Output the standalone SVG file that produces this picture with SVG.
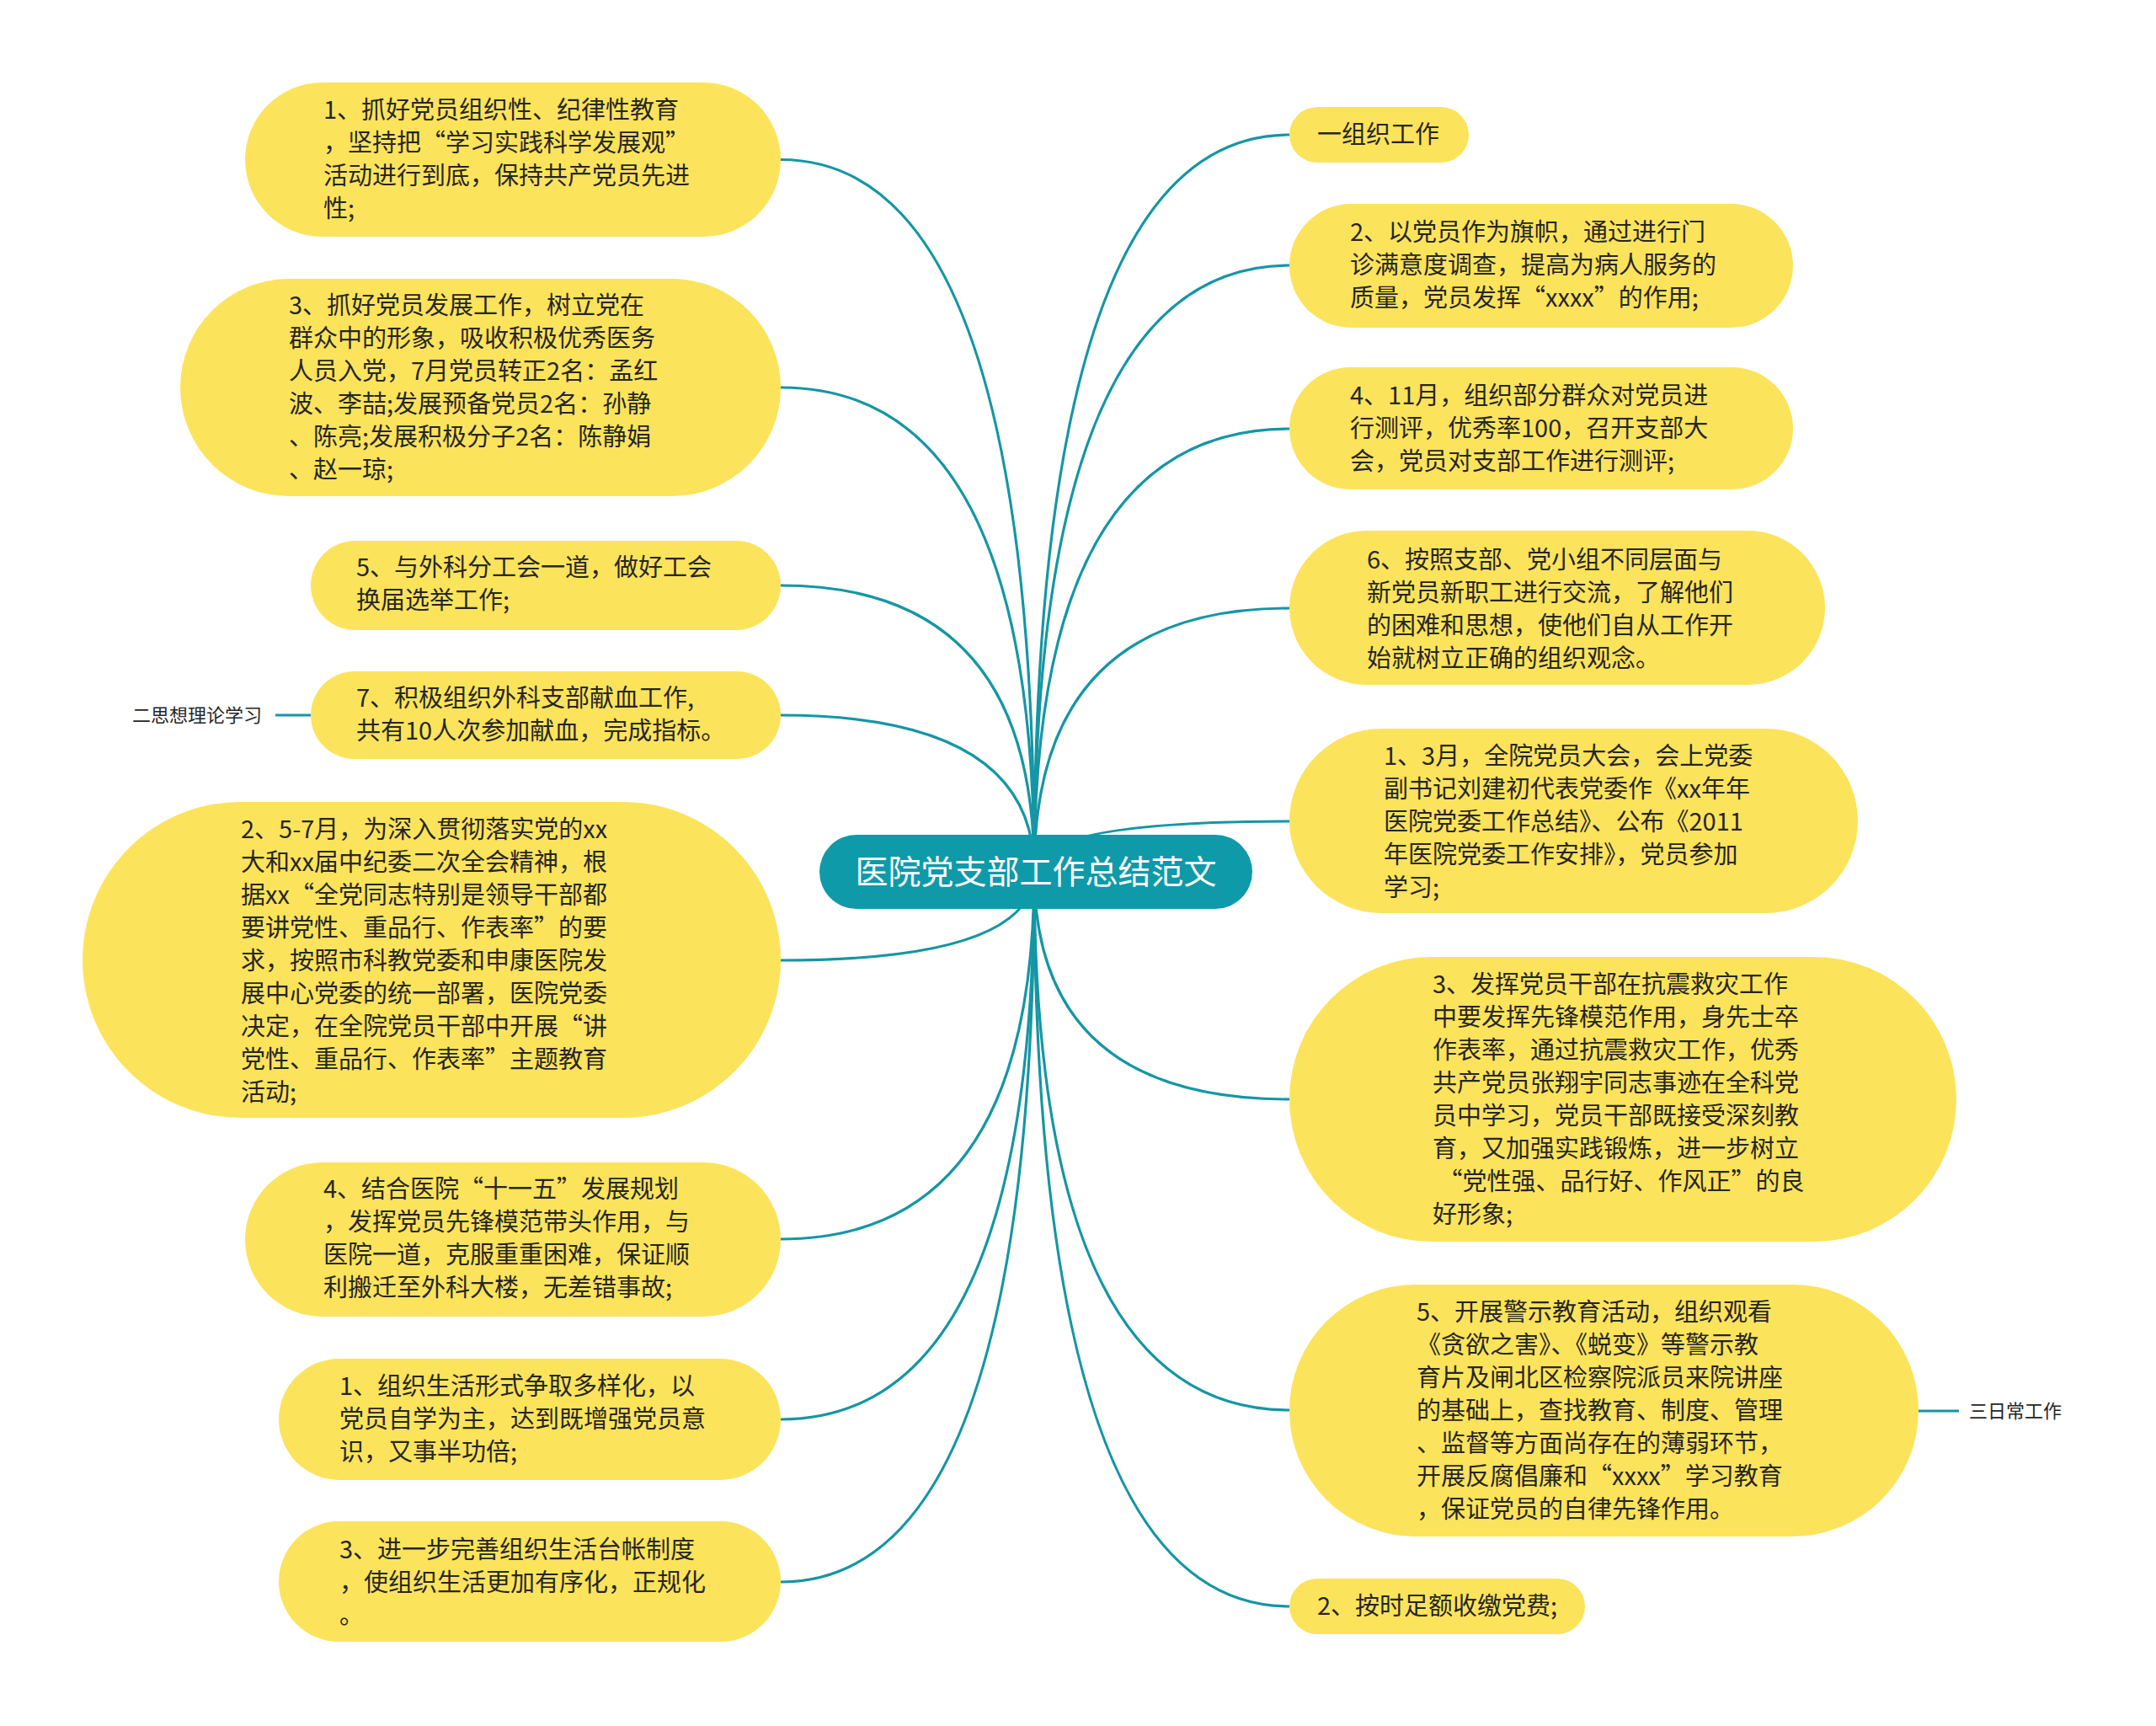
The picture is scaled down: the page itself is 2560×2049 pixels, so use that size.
<svg xmlns="http://www.w3.org/2000/svg" width="2560" height="2049" viewBox="0 0 2560 2049">
<style>
.bg{fill:#ffffff}
.edge{fill:none;stroke:#1596a5;stroke-width:3.2}
.node{fill:#fce35c}
.t{font-family:"Noto Sans CJK SC","Noto Sans",sans-serif;font-size:29px;fill:#262626}
.root{fill:#0f9aa9}
.rt{font-family:"Noto Sans CJK SC","Noto Sans",sans-serif;font-size:39px;fill:#ffffff;text-anchor:middle}
.lbl{font-family:"Noto Sans CJK SC","Noto Sans",sans-serif;font-size:22px;fill:#262626}
</style>
<rect class="bg" x="0" y="0" width="2560" height="2049"/>
<g id="connectors">
<path class="edge" d="M1228 1034 Q1228 189.5 927 189.5"/>
<path class="edge" d="M1228 1034 Q1228 460 927 460"/>
<path class="edge" d="M1228 1034 Q1228 695 927 695"/>
<path class="edge" d="M1228 1034 Q1228 849 927 849"/>
<path class="edge" d="M1228 1034 Q1228 1140 927 1140"/>
<path class="edge" d="M1228 1034 Q1228 1471 927 1471"/>
<path class="edge" d="M1228 1034 Q1228 1685 927 1685"/>
<path class="edge" d="M1228 1034 Q1228 1878 927 1878"/>
<path class="edge" d="M1228 1034 Q1228 160 1531 160"/>
<path class="edge" d="M1228 1034 Q1228 315 1531 315"/>
<path class="edge" d="M1228 1034 Q1228 509 1531 509"/>
<path class="edge" d="M1228 1034 Q1228 722 1531 722"/>
<path class="edge" d="M1228 1034 Q1228 975 1531 975"/>
<path class="edge" d="M1228 1034 Q1228 1305 1531 1305"/>
<path class="edge" d="M1228 1034 Q1228 1674 1531 1674"/>
<path class="edge" d="M1228 1034 Q1228 1907 1531 1907"/>
<path class="edge" d="M327 849 L369 849"/>
<path class="edge" d="M2278 1675 L2326 1675"/>
</g>
<g id="root">
<rect class="root" x="973" y="991" width="514" height="88" rx="44"/>
<text class="rt" x="1230" y="1049">医院党支部工作总结范文</text>
</g>
<g id="L1">
<rect class="node" x="291" y="98" width="636" height="183" rx="91.5"/>
<text class="t"><tspan x="384" y="141">1、抓好党员组织性、纪律性教育</tspan><tspan x="384" y="180">，坚持把“学习实践科学发展观”</tspan><tspan x="384" y="219">活动进行到底，保持共产党员先进</tspan><tspan x="384" y="258">性;</tspan></text>
</g>
<g id="L2">
<rect class="node" x="214" y="331" width="713" height="258" rx="129"/>
<text class="t"><tspan x="343" y="373">3、抓好党员发展工作，树立党在</tspan><tspan x="343" y="412">群众中的形象，吸收积极优秀医务</tspan><tspan x="343" y="451">人员入党，7月党员转正2名：孟红</tspan><tspan x="343" y="490">波、李喆;发展预备党员2名：孙静</tspan><tspan x="343" y="529">、陈亮;发展积极分子2名：陈静娟</tspan><tspan x="343" y="568">、赵一琼;</tspan></text>
</g>
<g id="L3">
<rect class="node" x="369" y="642" width="558" height="106" rx="53"/>
<text class="t"><tspan x="423" y="684">5、与外科分工会一道，做好工会</tspan><tspan x="423" y="723">换届选举工作;</tspan></text>
</g>
<g id="L4">
<rect class="node" x="369" y="797" width="558" height="104" rx="52"/>
<text class="t"><tspan x="423" y="839">7、积极组织外科支部献血工作,</tspan><tspan x="423" y="878">共有10人次参加献血，完成指标。</tspan></text>
</g>
<g id="label-left">
<text class="lbl" x="157" y="857">二思想理论学习</text>
</g>
<g id="L5">
<rect class="node" x="98" y="952" width="829" height="375" rx="187.5"/>
<text class="t"><tspan x="286" y="995">2、5-7月，为深入贯彻落实党的xx</tspan><tspan x="286" y="1034">大和xx届中纪委二次全会精神，根</tspan><tspan x="286" y="1073">据xx“全党同志特别是领导干部都</tspan><tspan x="286" y="1112">要讲党性、重品行、作表率”的要</tspan><tspan x="286" y="1151">求，按照市科教党委和申康医院发</tspan><tspan x="286" y="1190">展中心党委的统一部署，医院党委</tspan><tspan x="286" y="1229">决定，在全院党员干部中开展“讲</tspan><tspan x="286" y="1268">党性、重品行、作表率”主题教育</tspan><tspan x="286" y="1307">活动;</tspan></text>
</g>
<g id="L6">
<rect class="node" x="291" y="1380" width="636" height="183" rx="91.5"/>
<text class="t"><tspan x="384" y="1422">4、结合医院“十一五”发展规划</tspan><tspan x="384" y="1461">，发挥党员先锋模范带头作用，与</tspan><tspan x="384" y="1500">医院一道，克服重重困难，保证顺</tspan><tspan x="384" y="1539">利搬迁至外科大楼，无差错事故;</tspan></text>
</g>
<g id="L7">
<rect class="node" x="331" y="1613" width="596" height="144" rx="72"/>
<text class="t"><tspan x="403" y="1656">1、组织生活形式争取多样化，以</tspan><tspan x="403" y="1695">党员自学为主，达到既增强党员意</tspan><tspan x="403" y="1734">识，又事半功倍;</tspan></text>
</g>
<g id="L8">
<rect class="node" x="331" y="1806" width="596" height="143" rx="71.5"/>
<text class="t"><tspan x="403" y="1850">3、进一步完善组织生活台帐制度</tspan><tspan x="403" y="1889">，使组织生活更加有序化，正规化</tspan><tspan x="403" y="1928">。</tspan></text>
</g>
<g id="R1">
<rect class="node" x="1531" y="127" width="213" height="66" rx="33"/>
<text class="t"><tspan x="1564" y="170">一组织工作</tspan></text>
</g>
<g id="R2">
<rect class="node" x="1531" y="242" width="598" height="147" rx="73.5"/>
<text class="t"><tspan x="1603" y="286">2、以党员作为旗帜，通过进行门</tspan><tspan x="1603" y="325">诊满意度调查，提高为病人服务的</tspan><tspan x="1603" y="364">质量，党员发挥“xxxx”的作用;</tspan></text>
</g>
<g id="R3">
<rect class="node" x="1531" y="436" width="598" height="145" rx="72.5"/>
<text class="t"><tspan x="1603" y="480">4、11月，组织部分群众对党员进</tspan><tspan x="1603" y="519">行测评，优秀率100，召开支部大</tspan><tspan x="1603" y="558">会，党员对支部工作进行测评;</tspan></text>
</g>
<g id="R4">
<rect class="node" x="1531" y="630" width="636" height="183" rx="91.5"/>
<text class="t"><tspan x="1623" y="675">6、按照支部、党小组不同层面与</tspan><tspan x="1623" y="714">新党员新职工进行交流，了解他们</tspan><tspan x="1623" y="753">的困难和思想，使他们自从工作开</tspan><tspan x="1623" y="792">始就树立正确的组织观念。</tspan></text>
</g>
<g id="R5">
<rect class="node" x="1531" y="865" width="675" height="219" rx="109.5"/>
<text class="t"><tspan x="1643" y="908">1、3月，全院党员大会，会上党委</tspan><tspan x="1643" y="947">副书记刘建初代表党委作《xx年年</tspan><tspan x="1643" y="986">医院党委工作总结》、公布《2011</tspan><tspan x="1643" y="1025">年医院党委工作安排》，党员参加</tspan><tspan x="1643" y="1064">学习;</tspan></text>
</g>
<g id="R6">
<rect class="node" x="1531" y="1136" width="792" height="338" rx="169"/>
<text class="t"><tspan x="1701" y="1179">3、发挥党员干部在抗震救灾工作</tspan><tspan x="1701" y="1218">中要发挥先锋模范作用，身先士卒</tspan><tspan x="1701" y="1257">作表率，通过抗震救灾工作，优秀</tspan><tspan x="1701" y="1296">共产党员张翔宇同志事迹在全科党</tspan><tspan x="1701" y="1335">员中学习，党员干部既接受深刻教</tspan><tspan x="1701" y="1374">育，又加强实践锻炼，进一步树立</tspan><tspan x="1701" y="1413"> “党性强、品行好、作风正”的良</tspan><tspan x="1701" y="1452">好形象;</tspan></text>
</g>
<g id="R7">
<rect class="node" x="1531" y="1525" width="747" height="299" rx="149.5"/>
<text class="t"><tspan x="1682" y="1568">5、开展警示教育活动，组织观看</tspan><tspan x="1682" y="1607">《贪欲之害》、《蜕变》等警示教</tspan><tspan x="1682" y="1646">育片及闸北区检察院派员来院讲座</tspan><tspan x="1682" y="1685">的基础上，查找教育、制度、管理</tspan><tspan x="1682" y="1724">、监督等方面尚存在的薄弱环节，</tspan><tspan x="1682" y="1763">开展反腐倡廉和“xxxx”学习教育</tspan><tspan x="1682" y="1802">，保证党员的自律先锋作用。</tspan></text>
</g>
<g id="label-right">
<text class="lbl" x="2338" y="1683">三日常工作</text>
</g>
<g id="R8">
<rect class="node" x="1531" y="1874" width="351" height="66" rx="33"/>
<text class="t"><tspan x="1564" y="1917">2、按时足额收缴党费;</tspan></text>
</g>
</svg>
